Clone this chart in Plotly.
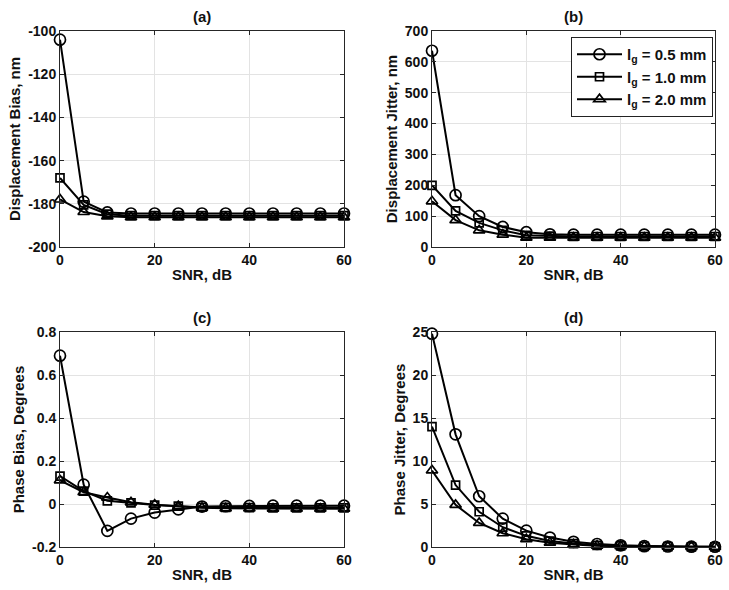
import plotly.graph_objects as go

snr = [0, 5, 10, 15, 20, 25, 30, 35, 40, 45, 50, 55, 60]
series_names = ["l<sub>g</sub> = 0.5 mm", "l<sub>g</sub> = 1.0 mm", "l<sub>g</sub> = 2.0 mm"]

disp_bias_05 = [-104, -179, -184, -184.5, -184.5, -184.5, -184.5, -184.5, -184.5, -184.5, -184.5, -184.5, -184.5]
disp_bias_10 = [-168, -180.5, -184.8, -185.5, -185.5, -185.5, -185.5, -185.5, -185.5, -185.5, -185.5, -185.5, -185.5]
disp_bias_20 = [-178, -183.8, -185.8, -186.2, -186.2, -186.2, -186.2, -186.2, -186.2, -186.2, -186.2, -186.2, -186.2]

disp_jit_05 = [636, 168, 100, 65, 48, 41, 40, 40, 40, 40, 40, 40, 40]
disp_jit_10 = [200, 117, 78, 54, 38, 35, 34, 34, 34, 34, 34, 34, 34]
disp_jit_20 = [148, 87, 54, 40, 30, 30, 30, 30, 30, 30, 30, 30, 30]

phase_bias_05 = [0.69, 0.09, -0.125, -0.068, -0.04, -0.025, -0.012, -0.01, -0.009, -0.008, -0.008, -0.008, -0.008]
phase_bias_10 = [0.13, 0.06, 0.015, 0.005, -0.005, -0.01, -0.015, -0.016, -0.017, -0.018, -0.018, -0.018, -0.018]
phase_bias_20 = [0.11, 0.055, 0.03, 0.008, -0.003, -0.01, -0.018, -0.02, -0.021, -0.022, -0.022, -0.022, -0.022]

phase_jit_05 = [24.8, 13.1, 5.9, 3.3, 1.9, 1.1, 0.6, 0.35, 0.2, 0.1, 0.06, 0.04, 0.03]
phase_jit_10 = [14.0, 7.2, 4.1, 2.3, 1.3, 0.7, 0.4, 0.2, 0.12, 0.07, 0.04, 0.02, 0.02]
phase_jit_20 = [8.9, 4.9, 2.8, 1.6, 0.9, 0.5, 0.3, 0.15, 0.09, 0.05, 0.03, 0.02, 0.01]

panel_titles = ["(a)", "(b)", "(c)", "(d)"]
y_titles = ["Displacement Bias, nm", "Displacement Jitter, nm", "Phase Bias, Degrees", "Phase Jitter, Degrees"]
x_title = "SNR, dB"
x_ticks = [0, 20, 40, 60]

ya_ticks = [-200, -180, -160, -140, -120, -100]
ya_text = ["-200", "-180", "-160", "-140", "-120", "-100"]
yb_ticks = [0, 100, 200, 300, 400, 500, 600, 700]
yc_ticks = [-0.2, 0, 0.2, 0.4, 0.6, 0.8]
yc_text = ["-0.2", "0", "0.2", "0.4", "0.6", "0.8"]
yd_ticks = [0, 5, 10, 15, 20, 25]

W, H = 729, 590
FONT = "Liberation Sans, Arial, sans-serif"
symbols = ["circle-open", "square-open", "triangle-up-open"]
msizes = [11, 8, 10]

panels = [
    ([disp_bias_05, disp_bias_10, disp_bias_20], (60, 344), (31, 247), [-200, -100], ya_ticks, ya_text),
    ([disp_jit_05, disp_jit_10, disp_jit_20], (432, 715), (31, 247), [0, 700], yb_ticks, [str(v) for v in yb_ticks]),
    ([phase_bias_05, phase_bias_10, phase_bias_20], (60, 344), (332, 547), [-0.2, 0.8], yc_ticks, yc_text),
    ([phase_jit_05, phase_jit_10, phase_jit_20], (432, 715), (332, 547), [0, 25], yd_ticks, [str(v) for v in yd_ticks]),
]

fig = go.Figure()
layout = {}
annotations = []
for i, (data, (x0, x1), (y0, y1), yr, yt, ytt) in enumerate(panels):
    n = "" if i == 0 else str(i + 1)
    xa, ya = "x" + n, "y" + n
    for j, s in enumerate(data):
        fig.add_trace(go.Scatter(
            x=snr, y=s, xaxis=xa, yaxis=ya, name=series_names[j],
            mode="lines+markers",
            line=dict(color="black", width=2),
            marker=dict(symbol=symbols[j], size=msizes[j], color="black",
                        line=dict(width=1.7, color="black")),
            showlegend=(i == 1),
            cliponaxis=False,
        ))
    common = dict(showline=True, linecolor="#262626", linewidth=1, mirror="ticks",
                  ticks="inside", ticklen=4, tickcolor="#262626",
                  showgrid=True, gridcolor="#e3e3e3", gridwidth=1, zeroline=False,
                  tickfont=dict(family=FONT, size=14, color="#111", weight="bold"),
                  automargin=False)
    layout["xaxis" + n] = dict(common, domain=[x0 / W, x1 / W], anchor=ya, range=[0, 60],
                               tickvals=x_ticks,
                               title=dict(text=x_title, standoff=2,
                                          font=dict(family=FONT, size=15, color="#111", weight="bold")))
    layout["yaxis" + n] = dict(common, domain=[1 - y1 / H, 1 - y0 / H], anchor=xa, range=yr,
                               tickvals=yt, ticktext=ytt,
                               title=dict(text=y_titles[i], standoff=3,
                                          font=dict(family=FONT, size=15, color="#111", weight="bold")))
    annotations.append(dict(text=panel_titles[i], x=(x0 + x1) / 2 / W, y=1 - (y0 - 15) / H,
                            xref="paper", yref="paper", showarrow=False,
                            xanchor="center", yanchor="middle",
                            font=dict(family=FONT, size=15, color="#111", weight="bold")))

fig.update_layout(**layout)
fig.update_layout(
    width=W, height=H,
    margin=dict(l=0, r=0, t=0, b=0),
    paper_bgcolor="white", plot_bgcolor="white",
    annotations=annotations,
    showlegend=True,
    legend=dict(x=713 / W, y=1 - 37 / H, xanchor="right", yanchor="top",
                bgcolor="white", bordercolor="#222", borderwidth=1,
                font=dict(family=FONT, size=15, color="#111", weight="bold"),
                tracegroupgap=0, itemwidth=45),
)

fig.write_html("out.html", config={"displayModeBar": False},
               post_script="document.body.style.margin='0';document.body.style.overflow='hidden';")
